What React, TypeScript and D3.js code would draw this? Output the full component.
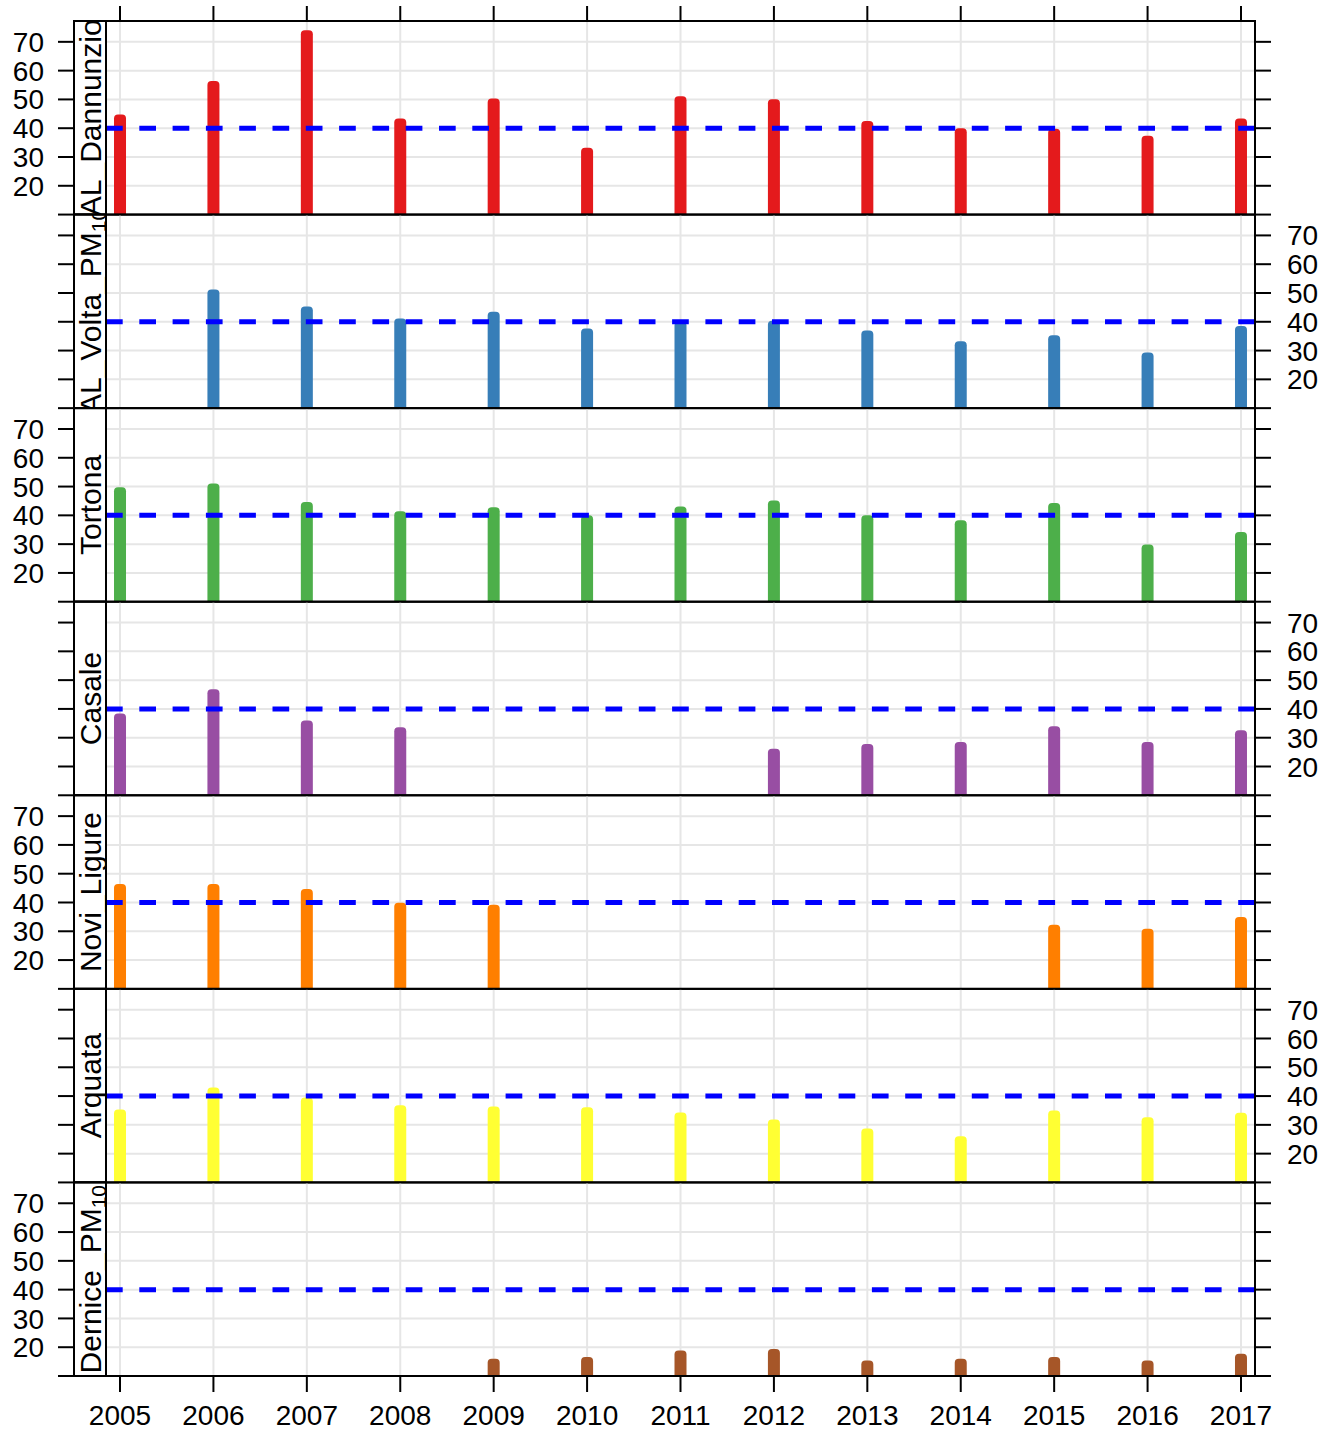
import React from "react";
import * as d3 from "d3";

const years = [2005, 2006, 2007, 2008, 2009, 2010, 2011, 2012, 2013, 2014, 2015, 2016, 2017];
const stationNames = ["AL_Dannunzio", "AL_Volta_PM10", "Tortona", "Casale", "Novi_Ligure", "Arquata", "Dernice_PM10"];
const stationColors = ["#E41A1C", "#377EB8", "#4DAF4A", "#984EA3", "#FF7F00", "#FFFF33", "#A65628"];

const dannunzio = [44.8, 56.4, 74, 43.4, 50.3, 33.2, 51.1, 50.1, 42.5, 40, 39.8, 37.4, 43.4];
const volta = [null, 51.2, 45.3, 41.1, 43.5, 37.7, 40.1, 40.4, 37, 33.2, 35.3, 29.3, 38.5];
const tortona = [49.8, 51.1, 44.6, 41.4, 42.8, 40, 43.1, 45.2, 40, 38.3, 44.3, 29.9, 34.2];
const casale = [38.4, 46.8, 36, 33.6, null, null, null, 26.2, 27.8, 28.5, 34, 28.5, 32.6];
const novi = [46.4, 46.4, 44.7, 39.9, 39.2, null, null, null, null, null, 32.3, 30.9, 35];
const arquata = [35.3, 43, 39.5, 36.8, 36.4, 36.1, 34.3, 31.9, 28.7, 26, 35, 32.6, 34.2];
const dernice = [null, null, null, null, 16, 16.6, 18.9, 19.4, 15.4, 16, 16.6, 15.4, 17.7];

const seriesValues: (number | null)[][] = [dannunzio, volta, tortona, casale, novi, arquata, dernice];
const yTicks = [10, 20, 30, 40, 50, 60, 70];
const yTickLabels = ["", "20", "30", "40", "50", "60", "70"];
const limitValue = 40;

const W = 1332;
const H = 1431;
const stripLeft = 74;
const panelLeft = 106;
const panelRight = 1255;
const top = 21;
const bottom = 1376;
const nP = stationNames.length;
const panelH = (bottom - top) / nP;
const FONT = "'Liberation Sans', Arial, Helvetica, sans-serif";

const x = d3.scaleLinear().domain([2004.85, 2017.15]).range([panelLeft, panelRight]);

function labelParts(name: string): { main: string; sub: string } {
  if (name.endsWith("PM10")) return { main: name.slice(0, -2), sub: "10" };
  return { main: name, sub: "" };
}

export default function App() {
  const barW = 12;
  const r = 4;
  return (
    <svg
      width={W}
      height={H}
      viewBox={`0 0 ${W} ${H}`}
      style={{ position: "absolute", left: 0, top: 0, background: "#fff" }}
      fontFamily={FONT}
    >
      <rect x={0} y={0} width={W} height={H} fill="#fff" />
      <defs>
        {stationNames.map((_, i) => {
          const pt = top + i * panelH;
          return (
            <React.Fragment key={i}>
              <clipPath id={`pclip${i}`}>
                <rect x={panelLeft} y={pt} width={panelRight - panelLeft} height={panelH} />
              </clipPath>
              <clipPath id={`sclip${i}`}>
                <rect x={stripLeft} y={pt} width={panelLeft - stripLeft} height={panelH} />
              </clipPath>
            </React.Fragment>
          );
        })}
      </defs>
      {stationNames.map((name, i) => {
        const pt = top + i * panelH;
        const pb = pt + panelH;
        const y = d3.scaleLinear().domain([10, 77.24]).range([pb, pt]);
        const vals = seriesValues[i];
        const leftLabels = i % 2 === 0;
        const lp = labelParts(name);
        const cy = (pt + pb) / 2;
        return (
          <g key={name}>
            <g clipPath={`url(#pclip${i})`}>
              {years.map((yr) => (
                <line key={yr} x1={x(yr)} x2={x(yr)} y1={pt} y2={pb} stroke="#e6e6e6" strokeWidth={2} />
              ))}
              {yTicks.slice(1).map((t) => (
                <line key={t} x1={panelLeft} x2={panelRight} y1={y(t)} y2={y(t)} stroke="#e6e6e6" strokeWidth={2} />
              ))}
              {vals.map((v, j) => {
                if (v == null) return null;
                const cx = x(years[j]);
                const yt = y(v);
                const x0 = cx - barW / 2;
                const x1 = cx + barW / 2;
                const d = `M${x0},${pb + 5} L${x0},${yt + r} Q${x0},${yt} ${x0 + r},${yt} L${x1 - r},${yt} Q${x1},${yt} ${x1},${yt + r} L${x1},${pb + 5} Z`;
                return <path key={j} d={d} fill={stationColors[i]} />;
              })}
              <line
                x1={panelLeft}
                x2={panelRight}
                y1={y(limitValue)}
                y2={y(limitValue)}
                stroke="#0000FF"
                strokeWidth={5}
                strokeDasharray="16.7 16.6"
              />
            </g>
            <rect x={panelLeft} y={pt} width={panelRight - panelLeft} height={panelH} fill="none" stroke="#000" strokeWidth={2} />
            <rect x={stripLeft} y={pt} width={panelLeft - stripLeft} height={panelH} fill="#fff" stroke="#000" strokeWidth={2} />
            <g clipPath={`url(#sclip${i})`}>
              <text
                transform={`translate(${(stripLeft + panelLeft) / 2},${cy}) rotate(-90)`}
                y={10.5}
                textAnchor="middle"
                fontSize={30}
                fill="#000"
              >
                {lp.main}
                {lp.sub && (
                  <tspan fontSize={21} dy={5}>
                    {lp.sub}
                  </tspan>
                )}
              </text>
            </g>
            <rect x={stripLeft} y={pt} width={panelLeft - stripLeft} height={panelH} fill="none" stroke="#000" strokeWidth={2} />
            {yTicks.map((t, k) => (
              <g key={t}>
                <line x1={stripLeft - 16} x2={stripLeft} y1={y(t)} y2={y(t)} stroke="#000" strokeWidth={2} />
                <line x1={panelRight} x2={panelRight + 16} y1={y(t)} y2={y(t)} stroke="#000" strokeWidth={2} />
                {yTickLabels[k] && (
                  <text
                    x={leftLabels ? 44 : 1287}
                    y={y(t)}
                    dy="0.36em"
                    textAnchor={leftLabels ? "end" : "start"}
                    fontSize={28}
                    fill="#000"
                  >
                    {yTickLabels[k]}
                  </text>
                )}
              </g>
            ))}
          </g>
        );
      })}
      {years.map((yr) => (
        <g key={yr}>
          <line x1={x(yr)} x2={x(yr)} y1={top - 15} y2={top} stroke="#000" strokeWidth={2} />
          <line x1={x(yr)} x2={x(yr)} y1={bottom} y2={bottom + 16} stroke="#000" strokeWidth={2} />
          <text x={x(yr)} y={1425} textAnchor="middle" fontSize={28} fill="#000">
            {yr}
          </text>
        </g>
      ))}
      <rect x={stripLeft} y={top} width={panelRight - stripLeft} height={bottom - top} fill="none" stroke="#000" strokeWidth={2} />
    </svg>
  );
}
